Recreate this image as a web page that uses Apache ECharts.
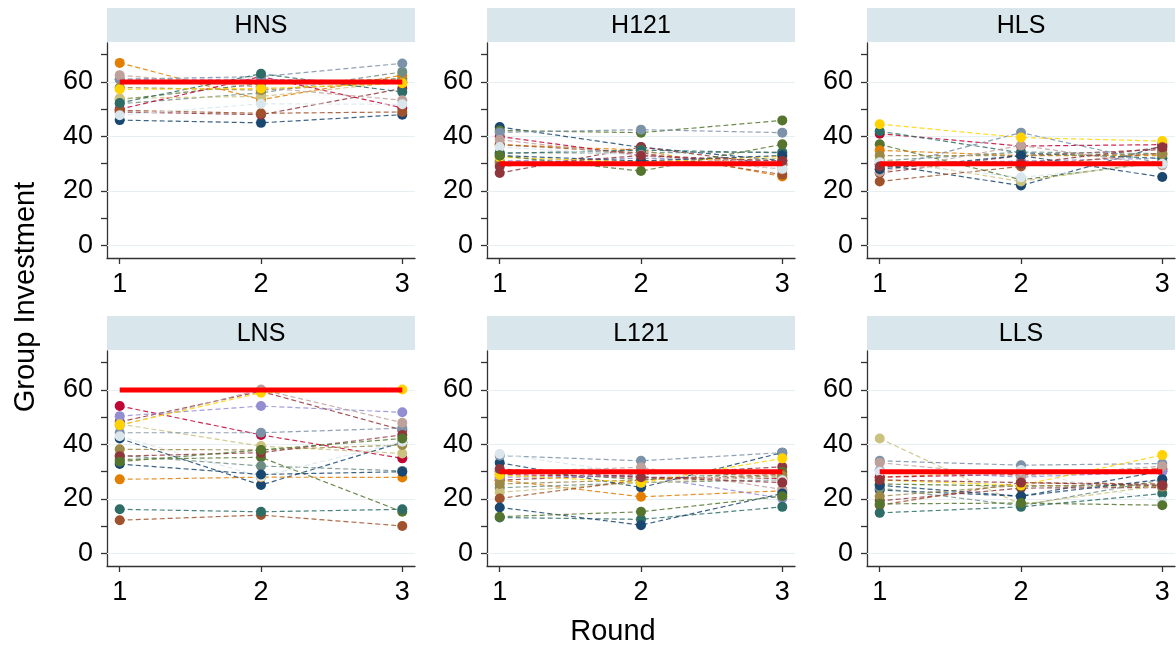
<!DOCTYPE html>
<html>
<head>
<meta charset="utf-8">
<title>Group Investment by Round</title>
<script src="https://cdn.jsdelivr.net/npm/echarts@6/dist/echarts.min.js"></script>
<style>
    html, body { margin: 0; padding: 0; background: #fff; }
    #chart { width: 1176px; height: 647px; }
</style>
</head>
<body>
<div id="chart"></div>
<script>
// x axis: rounds
var rounds = [1, 2, 3];
var panelNames = ['HNS', 'H121', 'HLS', 'LNS', 'L121', 'LLS'];
// red reference level for each panel
var refLevel = [60, 30, 30, 60, 30, 30];
var yLabels = [0, 20, 40, 60];
var yTicks = [0, 10, 20, 30, 40, 50, 60, 70];

// group investment per group, [round 1, round 2, round 3]
var hns = [
    [46, 45, 48], [49, 48, 57.6], [53.5, 59.4, 61.2], [67, 53.5, 62.5], [52, 56, 63.7],
    [50, 62, 50.5], [61, 61, 60], [54, 54.7, 60], [49.6, 48.5, 49], [61, 62, 66.8],
    [52.3, 63, 56.3], [58, 57, 60], [62.5, 58, 53.3], [57.3, 57.6, 59.5], [47.8, 52, 51.8]
];
var h121 = [
    [43.5, 36, 31.2], [26.6, 36.1, 29.4], [42.2, 41.4, 45.9], [37, 35, 25.3], [34, 34, 34.3],
    [40, 33, 30], [31, 32, 31], [30, 30, 32], [37, 34, 26], [41.5, 42.5, 41.4],
    [33.8, 35, 34], [30.5, 31, 30], [38.8, 33, 28], [32.4, 30.6, 32.7], [36.1, 33.1, 28.2],
    [33, 31, 33], [29, 33, 31], [33, 27.3, 37.1]
];
var hls = [
    [29.8, 22, 36.5], [26.6, 33, 35.2], [37.1, 24.1, 30.6], [34.9, 33, 33], [31, 34.3, 33.7],
    [41, 36.5, 37], [30, 31, 32], [31.8, 23.5, 31], [23.5, 29, 34], [28, 41.4, 30],
    [41.9, 34, 32], [33, 33, 33.5], [27, 36.7, 29.4], [44.5, 39.6, 38.3], [30.5, 25, 30],
    [28, 33, 25.1], [29, 30, 36]
];
var lns = [
    [42.2, 25.1, 40.8], [48.3, 59.5, 45.3], [34.5, 35.3, 15.3], [27.2, 28, 27.9], [36, 32.1, 30.3],
    [54.1, 43.5, 34.9], [50.4, 54.1, 51.8], [47.5, 39.4, 36.7], [12.2, 14.1, 10.1], [44.3, 44.3, 46],
    [16.2, 15.3, 16.2], [38.2, 38, 39.8], [47, 60.2, 48], [47.1, 59, 60.2], [43, 28.2, 41],
    [32.8, 29, 30], [35.7, 37, 43.5], [33.7, 38, 42.2]
];
var l121 = [
    [33.3, 24.2, 37], [26.9, 29, 31.8], [30.2, 27.2, 30], [27, 20.8, 23], [24.1, 26, 27],
    [29, 28, 27.5], [28, 28.5, 20.2], [22.5, 26, 28], [20.2, 27, 29], [35.9, 34, 37],
    [13.2, 12.5, 17.1], [25.5, 27, 28.5], [30, 31.6, 23.5], [28.8, 26, 34.9], [36.5, 29, 26.9],
    [16.9, 10.4, 22], [31, 28, 26], [13.5, 15.3, 21]
];
var lls = [
    [23.3, 21, 30.2], [19.3, 24, 24.2], [25.5, 24.7, 25.1], [28, 30, 31], [24, 17.5, 27],
    [28, 29, 31], [30.5, 28, 30], [42.2, 18, 25], [17.7, 26, 25.5], [34, 32.4, 33],
    [14.9, 17.1, 22], [21, 25, 24.5], [33.3, 28.4, 32], [26.9, 25, 36.1], [30, 30.6, 19],
    [25, 21, 27.2], [27, 26, 25], [18.2, 18.5, 17.7]
];
var panelData = [hns, h121, hls, lns, l121, lls];

// stata s2color order
var palette = ['#1a476f', '#90353b', '#55752f', '#e37e00', '#6e8e84', '#c10534', '#938dd2',
    '#cac27e', '#a0522d', '#7b92a8', '#2d6d66', '#9c8847', '#bfa19c', '#ffd200', '#d9e6eb'];

var font = '"Liberation Sans", Arial, sans-serif';
var colLeft = [107, 487, 867];
var rowTop = [43, 351];
var plotW = 308, plotH = 215, stripH = 34;

var grids = [], xAxes = [], yAxes = [], series = [], graphics = [];

panelNames.forEach(function (name, i) {
    var left = colLeft[i % 3], top = rowTop[Math.floor(i / 3)];
    grids.push({left: left, top: top, width: plotW, height: plotH, outerBoundsMode: 'none'});

    xAxes.push({
        type: 'value', gridIndex: i, min: 0.91, max: 3.09,
        axisLine: {show: true, onZero: false, lineStyle: {color: '#333', width: 1.3}},
        axisTick: {show: true, customValues: rounds, length: 6, lineStyle: {color: '#333', width: 1.3}},
        axisLabel: {customValues: rounds, fontSize: 27, color: '#000', fontFamily: font, margin: 13},
        splitLine: {show: false}
    });
    yAxes.push({
        type: 'value', gridIndex: i, min: -4.6, max: 74.3,
        axisLine: {show: true, onZero: false, lineStyle: {color: '#333', width: 1.3}},
        axisTick: {show: true, customValues: yTicks, length: 6, lineStyle: {color: '#333', width: 1.3}},
        axisLabel: {customValues: yLabels, fontSize: 27, color: '#000', fontFamily: font, margin: 14},
        splitLine: {show: false}
    });

    // panel strip
    graphics.push({
        type: 'rect', left: left, top: top - stripH - 1, silent: true,
        shape: {width: plotW, height: stripH}, style: {fill: '#d9e6eb'}
    });
    graphics.push({
        type: 'text', x: left + plotW / 2, y: top - stripH / 2, silent: true,
        style: {text: name, fontSize: 25, fontFamily: font, fill: '#000', align: 'center', verticalAlign: 'middle'}
    });

    // light grid lines
    series.push({
        type: 'line', xAxisIndex: i, yAxisIndex: i, silent: true, z: 1,
        data: [], symbol: 'none',
        markLine: {
            silent: true, symbol: 'none', label: {show: false}, z: 1,
            lineStyle: {color: '#e6eff1', width: 1, type: 'solid'},
            data: yLabels.map(function (v) { return {yAxis: v}; })
        }
    });

    panelData[i].forEach(function (vals, g) {
        var c = palette[g % palette.length];
        series.push({
            type: 'line', xAxisIndex: i, yAxisIndex: i, silent: true, z: 3,
            data: rounds.map(function (r, k) { return [r, vals[k]]; }),
            symbol: 'circle', symbolSize: 10,
            itemStyle: {color: c},
            lineStyle: {color: c, width: 1.2, type: [5, 3], opacity: 0.85}
        });
    });

    // red reference line, drawn last
    series.push({
        type: 'line', xAxisIndex: i, yAxisIndex: i, silent: true, z: 6,
        data: [[rounds[0], refLevel[i]], [rounds[rounds.length - 1], refLevel[i]]],
        symbol: 'none', lineStyle: {color: '#ff0000', width: 5}
    });
});

graphics.push({
    type: 'text', x: 26, y: 297, rotation: Math.PI / 2, silent: true,
    style: {text: 'Group Investment', fontSize: 29, fontFamily: font, fill: '#000', align: 'center', verticalAlign: 'middle'}
});
graphics.push({
    type: 'text', x: 613, y: 632, silent: true,
    style: {text: 'Round', fontSize: 29, fontFamily: font, fill: '#000', align: 'center', verticalAlign: 'middle'}
});

var myChart = echarts.init(document.getElementById('chart'));
myChart.setOption({
    animation: false,
    backgroundColor: '#fff',
    grid: grids,
    xAxis: xAxes,
    yAxis: yAxes,
    graphic: graphics,
    series: series
});
</script>
</body>
</html>
